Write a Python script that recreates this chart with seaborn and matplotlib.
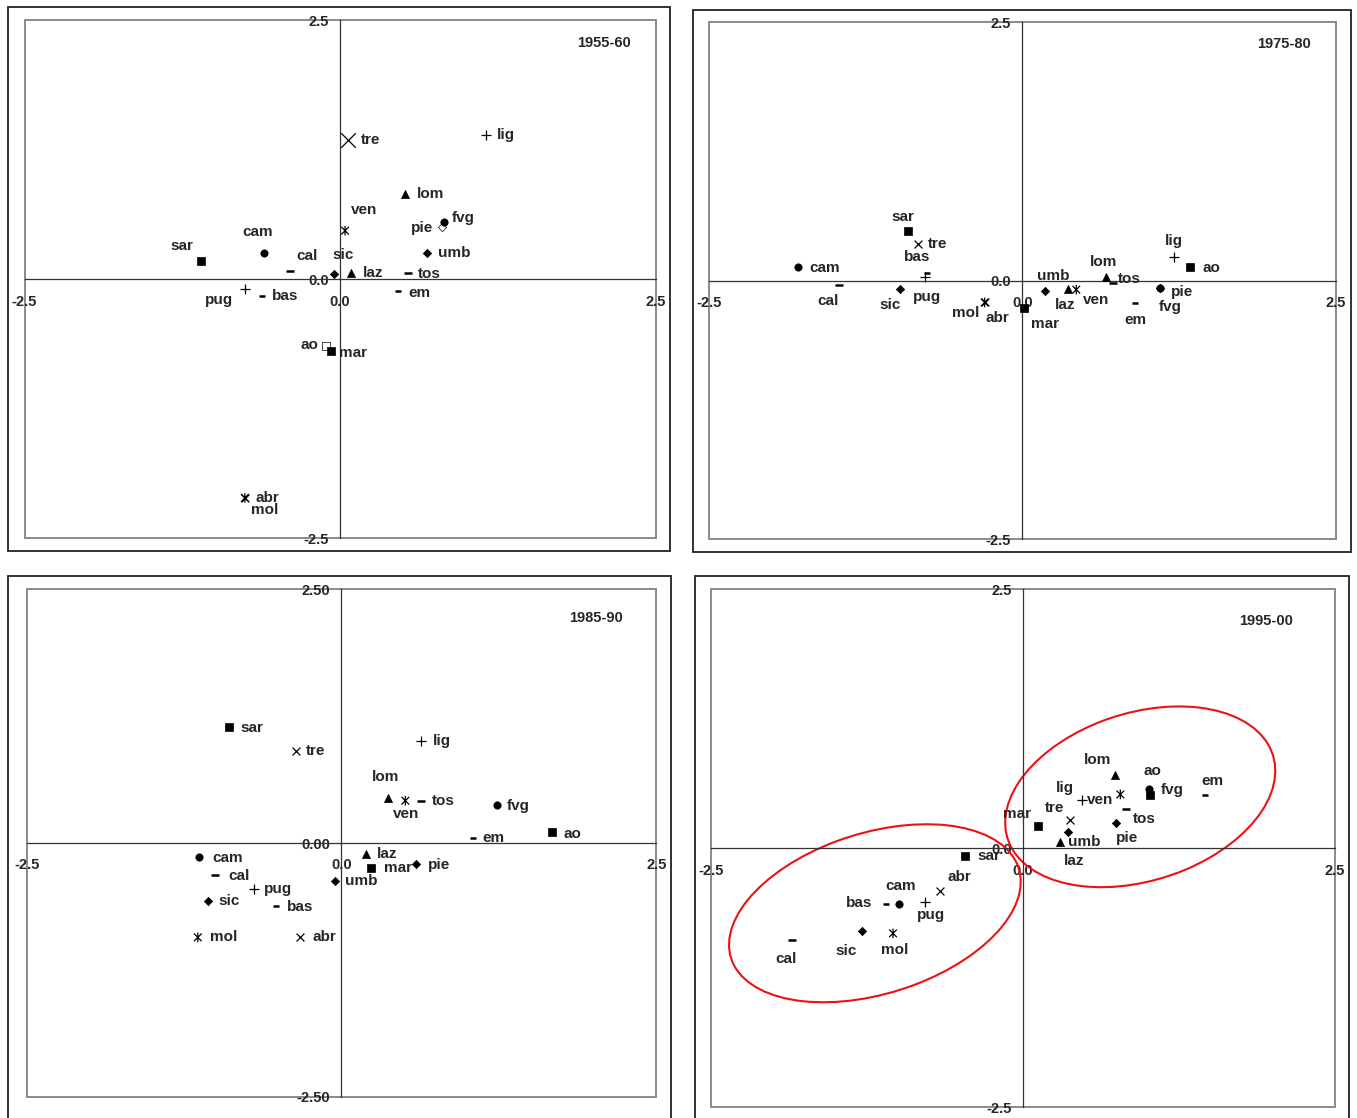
import numpy as np
import pandas as pd
import seaborn as sns
import matplotlib.pyplot as plt
from matplotlib.patches import Rectangle, Ellipse
from matplotlib.path import Path

sns.set_style("white")
plt.rcParams['font.family'] = ['Liberation Sans', 'DejaVu Sans']

W, H = 1357, 1118

# region codes, same order in every period
regions = ['sar', 'cam', 'cal', 'sic', 'pug', 'bas', 'abr', 'mol', 'ao', 'mar',
           'tre', 'lig', 'lom', 'ven', 'fvg', 'pie', 'umb', 'laz', 'tos', 'em']

# coordinates
x_1955 = [-1.10, -0.60, -0.40, -0.045, -0.754, -0.616, -0.754, -0.754, -0.11, -0.072,
          0.065, 1.156, 0.516, 0.04, 0.826, 0.81, 0.69, 0.09, 0.537, 0.46]
y_1955 = [0.18, 0.255, 0.083, 0.05, -0.093, -0.16, -2.11, -2.11, -0.646, -0.694,
          1.35, 1.39, 0.82, 0.47, 0.556, 0.51, 0.25, 0.065, 0.062, -0.11]

x_1975 = [-0.915, -1.788, -1.461, -0.977, -0.777, -0.76, -0.30, -0.30, 1.34, 0.014,
          -0.832, 1.21, 0.67, 0.43, 1.10, 1.10, 0.18, 0.36, 0.726, 0.90]
y_1975 = [0.477, 0.131, -0.041, -0.08, 0.041, 0.073, -0.21, -0.21, 0.131, -0.266,
          0.36, 0.23, 0.038, -0.086, -0.073, -0.073, -0.10, -0.08, -0.017, -0.218]

x_1985 = [-0.893, -1.128, -1.007, -1.062, -0.693, -0.521, -0.328, -1.141, 1.669, 0.234,
          -0.362, 0.631, 0.372, 0.507, 1.231, 0.593, -0.055, 0.197, 0.631, 1.045]
y_1985 = [1.142, -0.141, -0.317, -0.566, -0.452, -0.618, -0.928, -0.928, 0.107, -0.245,
          0.911, 1.004, 0.445, 0.418, 0.373, -0.204, -0.376, -0.107, 0.418, 0.052]

x_1995 = [-0.46, -0.992, -1.849, -1.289, -0.781, -1.10, -0.663, -1.04, 1.02, 0.121,
          0.38, 0.473, 0.736, 0.781, 1.01, 0.746, 0.359, 0.30, 0.829, 1.458]
y_1995 = [-0.071, -0.534, -0.882, -0.794, -0.52, -0.534, -0.409, -0.821, 0.51, 0.22,
          0.277, 0.463, 0.709, 0.52, 0.57, 0.243, 0.159, 0.064, 0.382, 0.51]

periods = ['1955-60', '1975-80', '1985-90', '1995-00']
xs = [x_1955, x_1975, x_1985, x_1995]
ys = [y_1955, y_1975, y_1985, y_1995]

# label placement (pixels, text centre relative to marker)
lab_1955 = [(-19, 15), (-7, 21), (18, 15), (9, 19), (-26, -11), (23, 0), (23, 0), (20, -12),
            (-17, 1), (22, -2), (22, 0), (20, 0), (25, 0), (19, 21), (19, 4), (-20, -1),
            (27, 0), (22, 0), (22, -1), (21, -2)]
lab_1975 = [(-5, 14), (27, -1), (-11, -16), (-10, -16), (2, -20), (-10, 16), (13, -16), (-19, -11),
            (21, -1), (21, -16), (20, 0), (0, 16), (-3, 15), (20, -10), (10, -19), (22, -4),
            (8, 15), (-2, -16), (16, 4), (0, -17)]
lab_1985 = [(23, -1), (28, -1), (24, -1), (21, 0), (24, 0), (24, -1), (24, 0), (26, 0),
            (21, -2), (27, 0), (20, 0), (21, 0), (-3, 21), (1, -13), (22, -1), (23, -1),
            (27, 0), (21, 0), (22, 0), (20, 0)]
lab_1995 = [(23, 0), (2, 18), (-6, -19), (-16, -20), (6, -13), (-26, 1), (19, 14), (2, -17),
            (2, 24), (-21, 12), (-16, 12), (-17, 12), (-17, 15), (-20, -6), (23, -1), (11, -15),
            (17, -10), (14, -19), (18, -10), (8, 14)]
labs = [lab_1955, lab_1975, lab_1985, lab_1995]

# marker used for each region
marker_of = {'sar': 's', 'cam': 'o', 'cal': 'dash', 'sic': 'D', 'pug': '+', 'bas': 'dot',
             'abr': 'x', 'mol': 'star', 'ao': 's', 'mar': 's', 'tre': 'x', 'lig': '+',
             'lom': '^', 'ven': 'star', 'fvg': 'o', 'pie': 'D', 'umb': 'D', 'laz': '^',
             'tos': 'dash', 'em': 'dot'}

star = Path([(0, -1), (0, 1), (-0.8, -0.8), (0.8, 0.8), (-0.8, 0.8), (0.8, -0.8)],
            [Path.MOVETO, Path.LINETO] * 3)
mstyle = {
    's': dict(marker='s', s=26, linewidth=0.5),
    'o': dict(marker='o', s=28, linewidth=0.5),
    'D': dict(marker='D', s=18, linewidth=0.5),
    '^': dict(marker='^', s=34, linewidth=0.5),
    '+': dict(marker='+', s=45, linewidth=0.9),
    'x': dict(marker='x', s=32, linewidth=0.9),
    'star': dict(marker=star, s=48, linewidth=0.9, facecolor='none', edgecolor='black'),
    'dash': dict(marker='_', s=40, linewidth=1.8),
    'dot': dict(marker='_', s=16, linewidth=1.8),
}

ytick_labels = [['-2.5', '0.0', '2.5'], ['-2.5', '0.0', '2.5'],
                ['-2.50', '0.00', '2.50'], ['-2.5', '0.0', '2.5']]

# inner plot boxes and outer frames, in image pixels (x0, y0, x1, y1)
inner = [(24.5, 20.4, 655.5, 538.3), (708.7, 22.2, 1336, 539.3),
         (26.7, 589.3, 656.3, 1097), (710.7, 589.3, 1335, 1107.3)]
outer = [(8.3, 6.5, 670.3, 551), (692.7, 9.7, 1350.5, 552),
         (8.3, 576.3, 671, 1135), (695.3, 576.3, 1348.7, 1135)]
title_pos = [(0.918, 0.956), (0.917, 0.958), (0.904, 0.944), (0.889, 0.939)]

# clusters circled in 1995-00: (centre x, centre y, width, height, angle)
ellipse_north = (0.94, 0.497, 2.285, 1.582, 26.5)
ellipse_south = (-1.185, -0.627, 2.47, 1.52, 24.3)

fig = plt.figure(figsize=(W / 100, H / 100), dpi=100)
fig.patch.set_facecolor('white')

for k in range(4):
    ox0, oy0, ox1, oy1 = outer[k]
    fig.patches.append(Rectangle((ox0 / W, 1 - oy1 / H), (ox1 - ox0) / W, (oy1 - oy0) / H,
                                 transform=fig.transFigure, fill=False, ec='#222222',
                                 lw=1.3, clip_on=False))
    x0, y0, x1, y1 = inner[k]
    ax = fig.add_axes([x0 / W, 1 - y1 / H, (x1 - x0) / W, (y1 - y0) / H])
    ax.set_xlim(-2.5, 2.5)
    ax.set_ylim(-2.5, 2.5)
    ax.add_patch(Rectangle((0, 0), 1, 1, transform=ax.transAxes, fill=False,
                           ec='#8a8a8a', lw=1.4, clip_on=False, zorder=0))
    for side in ['top', 'right']:
        ax.spines[side].set_visible(False)
    for side in ['left', 'bottom']:
        ax.spines[side].set_position(('data', 0))
        ax.spines[side].set_color('#333333')
        ax.spines[side].set_linewidth(0.9)

    df = pd.DataFrame({'region': regions, 'x': xs[k], 'y': ys[k]})
    df['shape'] = df['region'].map(marker_of)
    for shape, grp in df.groupby('shape'):
        st = dict(mstyle[shape])
        if shape in ['s', 'o', 'D', '^']:
            # open markers for ao and pie in the first period
            if k == 0:
                hollow = grp['region'].isin(['ao', 'pie'])
                solid = grp[~hollow]
                if hollow.any():
                    sns.scatterplot(data=grp[hollow], x='x', y='y', ax=ax, color='white',
                                    edgecolor='black', zorder=3, **st)
                grp = solid
            if len(grp):
                sns.scatterplot(data=grp, x='x', y='y', ax=ax, color='black',
                                edgecolor='black', zorder=3, **st)
        elif shape == 'star':
            sns.scatterplot(data=grp, x='x', y='y', ax=ax, zorder=3, **st)
        else:
            if k == 0 and shape == 'x':
                big = grp['region'] == 'tre'
                sns.scatterplot(data=grp[big], x='x', y='y', ax=ax, color='black', zorder=3,
                                marker='x', s=110, linewidth=0.9)
                grp = grp[~big]
            sns.scatterplot(data=grp, x='x', y='y', ax=ax, color='black', zorder=3, **st)

    for (name, px, py), (dx, dy) in zip(zip(regions, xs[k], ys[k]), labs[k]):
        ax.annotate(name, (px, py), xytext=(dx, dy), textcoords='offset pixels',
                    ha='center', va='center', fontsize=11, fontweight='bold', zorder=4)

    ax.set_xlabel('')
    ax.set_ylabel('')
    ax.set_xticks([-2.5, 0, 2.5])
    ax.set_xticklabels(['-2.5', '0.0', '2.5'])
    ax.set_yticks([-2.5, 0, 2.5])
    ax.set_yticklabels(ytick_labels[k])
    ax.tick_params(axis='x', length=0, pad=11, labelsize=10.5)
    ax.tick_params(axis='y', length=4, width=0.9, direction='out', pad=4, labelsize=10.5)
    for t in ax.get_xticklabels() + ax.get_yticklabels():
        t.set_fontweight('bold')

    ax.text(title_pos[k][0], title_pos[k][1], periods[k], transform=ax.transAxes,
            ha='center', va='center', fontsize=10.5, fontweight='bold')

    if k == 3:
        for cx, cy, ew, eh, ang in [ellipse_north, ellipse_south]:
            ax.add_patch(Ellipse((cx, cy), ew, eh, angle=ang, fill=False,
                                 ec='#ee1111', lw=1.5, zorder=2))

fig.savefig('out.png', dpi=100, facecolor='white')
